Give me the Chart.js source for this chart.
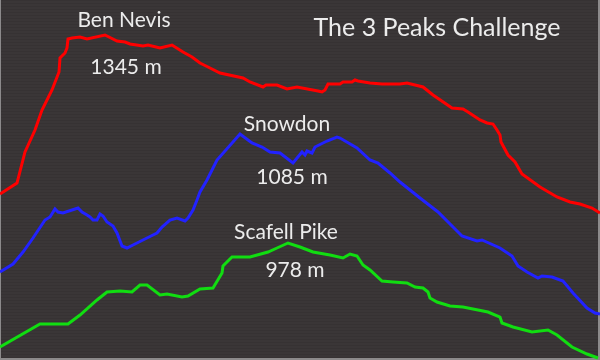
<!DOCTYPE html>
<html lang="en">
<head>
    <meta charset="UTF-8">
    <title>The 3 Peaks Challenge</title>
    <script src="https://cdn.jsdelivr.net/npm/chart.js"></script>
    <style>
        html, body { margin: 0; padding: 0; background: #3a3637; }
        #wrap { width: 600px; height: 360px; }
    </style>
</head>
<body>
    <div id="wrap">
        <canvas id="peaksChart" width="600" height="360"></canvas>
    </div>

    <script>
        // Route profiles: distance along the walk vs. height (arbitrary units)
        const benNevisX = [0, 17, 25, 35, 42, 52, 59, 60, 65, 67, 68, 72, 80, 87, 105, 117, 125, 130, 143, 148, 160, 172, 183, 192, 200, 208, 220, 243, 250, 263, 266, 277, 287, 297, 318, 322, 325, 328, 340, 343, 352, 355, 358, 370, 382, 400, 407, 423, 433, 452, 463, 468, 480, 487, 493, 497, 500, 501, 508, 515, 522, 540, 557, 570, 580, 592, 600];
        const benNevisY = [166, 177, 208, 230, 250, 270, 288, 302, 307, 312, 321, 322, 323, 321, 325, 319, 318, 316, 314, 315, 312, 315, 308, 303, 297, 293, 287, 282, 278, 273, 275, 275, 271, 273, 269, 268, 270, 276, 276, 278, 278, 280, 279, 277, 276, 276, 277, 273, 265, 252, 251, 248, 240, 237, 236, 230, 225, 218, 205, 198, 186, 173, 163, 158, 156, 152, 147];

        const snowdonX = [0, 13, 23, 33, 45, 50, 55, 58, 63, 72, 78, 82, 87, 90, 93, 97, 100, 103, 107, 113, 117, 122, 127, 133, 143, 153, 157, 162, 170, 177, 185, 188, 193, 197, 200, 207, 217, 240, 252, 262, 270, 280, 293, 302, 305, 307, 312, 315, 327, 337, 340, 357, 370, 378, 390, 400, 420, 438, 462, 477, 482, 500, 512, 518, 527, 538, 542, 552, 563, 573, 587, 595, 600];
        const snowdonY = [88, 96, 108, 122, 140, 143, 151, 148, 147, 150, 152, 148, 145, 143, 140, 140, 146, 144, 138, 134, 127, 114, 112, 115, 120, 125, 127, 133, 140, 142, 139, 142, 150, 160, 168, 180, 200, 226, 217, 213, 208, 207, 197, 208, 205, 209, 207, 213, 219, 223, 222, 212, 200, 197, 187, 178, 162, 148, 124, 119, 120, 112, 104, 94, 88, 82, 84, 83, 79, 67, 52, 47, 46];

        const scafellX = [0, 40, 68, 80, 97, 107, 120, 132, 140, 147, 160, 167, 182, 188, 200, 213, 222, 223, 232, 250, 268, 277, 288, 300, 313, 330, 343, 350, 357, 363, 370, 382, 393, 407, 415, 423, 428, 430, 437, 450, 463, 473, 488, 500, 502, 513, 532, 548, 557, 572, 587, 598];
        const scafellY = [13, 36, 36, 45, 60, 68, 69, 68, 75, 75, 65, 66, 63, 64, 71, 72, 87, 94, 103, 103, 108, 112, 117, 113, 108, 105, 102, 106, 104, 95, 90, 79, 78, 77, 73, 72, 68, 62, 58, 54, 53, 51, 48, 43, 37, 33, 28, 30, 25, 13, 6, 2];

        const seriesNames = ['Ben Nevis', 'Snowdon', 'Scafell Pike'];
        const peakHeights = ['1345 m', '1085 m', '978 m'];
        const chartTitle = 'The 3 Peaks Challenge';

        function toPoints(xs, ys) {
            return xs.map((x, i) => ({ x: x, y: ys[i] }));
        }

        // chalkboard background + frame
        const boardBackground = {
            id: 'boardBackground',
            beforeDraw(chart) {
                const ctx = chart.ctx;
                const w = chart.width, h = chart.height;
                ctx.save();
                ctx.fillStyle = '#3a3637';
                ctx.fillRect(0, 0, w, h);
                ctx.fillStyle = 'rgba(0,0,0,0.06)';
                for (let y = 0; y < h; y += 3) {
                    ctx.fillRect(0, y, w, 1);
                }
                ctx.fillStyle = '#8c8a8b';
                ctx.fillRect(0, 0, 1, h);
                ctx.fillRect(w - 2, 0, 2, h);
                ctx.fillRect(0, h - 2, w, 2);
                ctx.restore();
            }
        };

        // handwritten-ish labels
        const peakLabels = {
            id: 'peakLabels',
            afterDraw(chart) {
                const ctx = chart.ctx;
                ctx.save();
                ctx.fillStyle = '#ececec';
                ctx.textAlign = 'center';
                ctx.textBaseline = 'alphabetic';

                ctx.font = '25px Lato, "Open Sans", sans-serif';
                ctx.fillText(chartTitle, 437, 36);

                ctx.font = '21px Lato, "Open Sans", sans-serif';
                ctx.fillText(seriesNames[0], 124, 27);
                ctx.fillText(peakHeights[0], 126, 74);
                ctx.fillText(seriesNames[1], 287, 131);
                ctx.fillText(peakHeights[1], 292, 184);
                ctx.fillText(seriesNames[2], 286, 239);
                ctx.fillText(peakHeights[2], 295, 277);
                ctx.restore();
            }
        };

        const ctx = document.getElementById('peaksChart').getContext('2d');

        const lineStyle = {
            showLine: true,
            borderWidth: 3,
            pointRadius: 0,
            tension: 0,
            fill: false,
            clip: false
        };

        window.peaksChart = new Chart(ctx, {
            type: 'scatter',
            data: {
                datasets: [
                    Object.assign({ label: seriesNames[0], data: toPoints(benNevisX, benNevisY), borderColor: '#ff0000' }, lineStyle),
                    Object.assign({ label: seriesNames[1], data: toPoints(snowdonX, snowdonY), borderColor: '#2222ff' }, lineStyle),
                    Object.assign({ label: seriesNames[2], data: toPoints(scafellX, scafellY), borderColor: '#11dd11' }, lineStyle)
                ]
            },
            options: {
                responsive: false,
                animation: false,
                layout: { padding: 0 },
                plugins: {
                    legend: { display: false },
                    tooltip: { enabled: false },
                    title: { display: false }
                },
                scales: {
                    x: { type: 'linear', min: 0, max: 600, display: false },
                    y: { type: 'linear', min: 0, max: 360, display: false }
                }
            },
            plugins: [boardBackground, peakLabels]
        });
    </script>
</body>
</html>
